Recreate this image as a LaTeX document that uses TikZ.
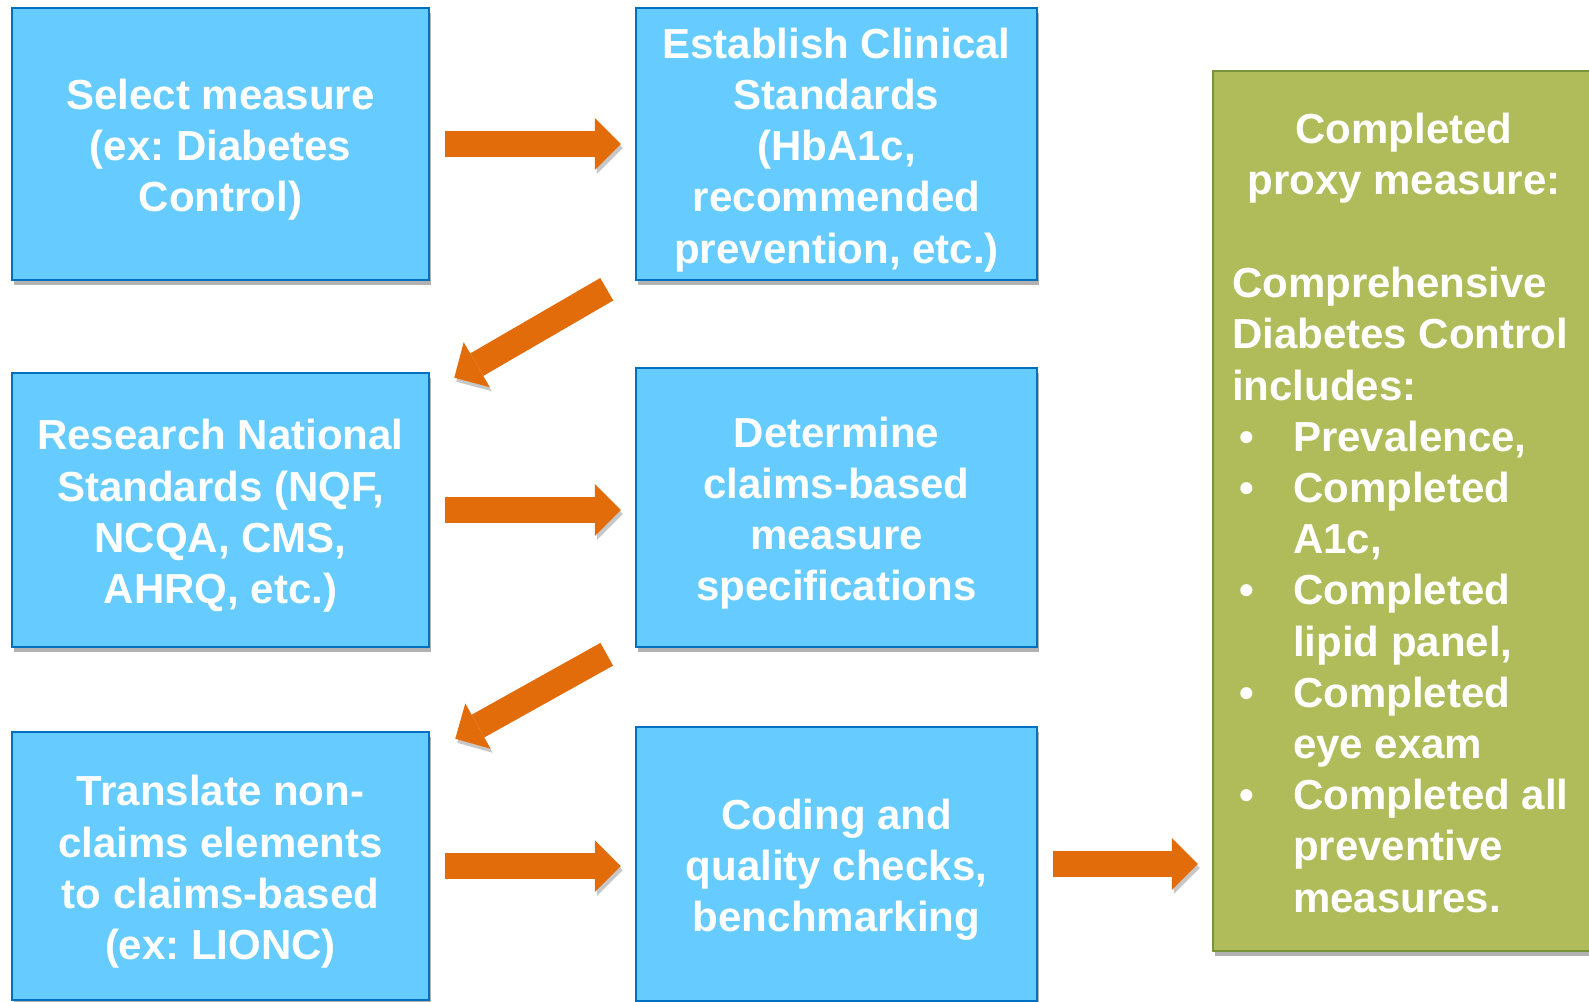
\documentclass[tikz,border=0pt]{standalone}
\usepackage{fontspec}
\setmainfont{Liberation Sans}
\usetikzlibrary{arrows.meta,shadows,calc}
\frenchspacing

\definecolor{boxfill}{HTML}{66CCFF}
\definecolor{boxline}{HTML}{0070C0}
\definecolor{proxyfill}{HTML}{B0BC5A}
\definecolor{proxyline}{HTML}{77933C}
\definecolor{flowcol}{HTML}{E36C0A}

\newcommand{\bulletitem}{\makebox[61pt][l]{\hspace{7pt}\textbullet}}
\newcommand{\bulletcont}{\hspace*{61pt}}
\newcommand{\headroom}{\rule{0pt}{42pt}}

\begin{document}
\begin{tikzpicture}[x=1pt,y=-1pt,
    stepbox/.style={draw=boxline, line width=2.5pt, fill=boxfill, text=white,
        font=\bfseries\fontsize{42}{51.2}\selectfont, align=center, inner sep=0pt,
        drop shadow={shadow xshift=2pt, shadow yshift=-5pt, opacity=0.3, fill=black}},
    proxytext/.style={text=white, font=\bfseries\fontsize{42}{51.2}\selectfont, inner sep=0pt},
    flow/.style={draw=flowcol, line width=26pt,
        -{Triangle[width=52pt, length=26pt, line width=0pt]},
        preaction={draw=black!22, transform canvas={xshift=2pt, yshift=-4pt}}}]
    \useasboundingbox (0,0) rectangle (1589,1001);

    \node[stepbox, minimum width=417pt, minimum height=272pt] (select) at (220.5,144)
        {\headroom Select measure\\(ex: Diabetes\\Control)};
    \node[stepbox, minimum width=401pt, minimum height=272pt] (establish) at (836.5,144)
        {\headroom Establish Clinical\\Standards\\(HbA1c,\\recommended\\prevention, etc.)};
    \node[stepbox, minimum width=417pt, minimum height=274pt] (research) at (220.5,510)
        {\headroom Research National\\Standards (NQF,\\NCQA, CMS,\\AHRQ, etc.)};
    \node[stepbox, minimum width=401pt, minimum height=279pt] (determine) at (836.5,507.5)
        {\headroom Determine\\claims-based\\measure\\specifications};
    \node[stepbox, minimum width=417pt, minimum height=268pt] (translate) at (220.5,866)
        {\headroom Translate non-\\claims elements\\to claims-based\\(ex: LIONC)};
    \node[stepbox, minimum width=401pt, minimum height=274pt] (coding) at (836.5,864)
        {\headroom Coding and\\quality checks,\\benchmarking};

    \node[stepbox, draw=proxyline, fill=proxyfill, minimum width=382pt, minimum height=880pt]
        (proxy) at (1404,511) {};
    \node[proxytext, align=center, anchor=north] (proxyhead) at (1404,113)
        {Completed\\proxy measure:};
    \node[proxytext, align=left, anchor=north west] (proxylist) at (1232,267)
        {Comprehensive\\Diabetes Control\\includes:\\
         \bulletitem Prevalence,\\
         \bulletitem Completed\\\bulletcont A1c,\\
         \bulletitem Completed\\\bulletcont lipid panel,\\
         \bulletitem Completed\\\bulletcont eye exam\\
         \bulletitem Completed all\\\bulletcont preventive\\\bulletcont measures.};

    \foreach \from/\to in {select/establish,research/determine,translate/coding,coding/proxy}
        \draw[flow, shorten <=15pt, shorten >=14pt] (\from.east) -- (\from.east -| \to.west);
    \draw[flow] ($(establish.south west)+(-28,8)$) -- ($(research.north east)+(24,6)$);
    \draw[flow] ($(determine.south west)+(-28,6)$) -- ($(translate.north east)+(25,8)$);
\end{tikzpicture}
\end{document}
